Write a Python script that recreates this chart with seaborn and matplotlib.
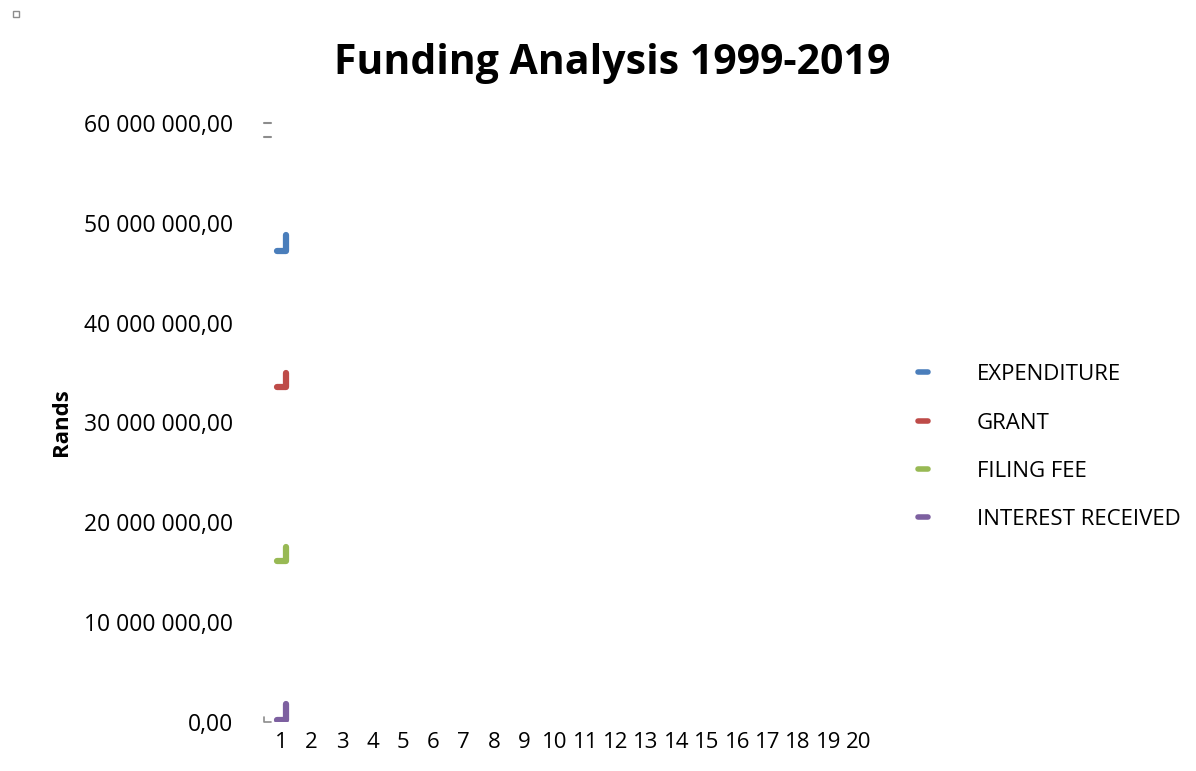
import matplotlib
matplotlib.use('Agg')
import matplotlib.pyplot as plt
import matplotlib.ticker as mticker
from matplotlib.lines import Line2D
from matplotlib.patches import Rectangle
import seaborn as sns
import pandas as pd

# series (Rands), each drawn as a short step at category 1
series = ['EXPENDITURE', 'GRANT', 'FILING FEE', 'INTEREST RECEIVED']
low_vals = [47.2e6, 33.6e6, 16.1e6, 0.15e6]
high_vals = [48.8e6, 35.0e6, 17.5e6, 1.8e6]
colors = ['#4a7ebb', '#be4b48', '#98b954', '#7d60a0']
categories = list(range(1, 21))

sns.set_theme(style='white')
plt.rcParams['font.family'] = ['Open Sans', 'DejaVu Sans']
plt.rcParams['text.color'] = 'black'
plt.rcParams['xtick.color'] = 'black'
plt.rcParams['ytick.color'] = 'black'
plt.rcParams['axes.labelcolor'] = 'black'

rows = []
for name, lo, hi in zip(series, low_vals, high_vals):
    rows.append({'series': name, 'x': 0.87, 'y': lo})
    rows.append({'series': name, 'x': 1.17, 'y': lo})
    rows.append({'series': name, 'x': 1.17, 'y': hi})
df = pd.DataFrame(rows)

fig = plt.figure(figsize=(11.96, 7.71), dpi=100)
ax = fig.add_axes([0.2224, 0.0636, 0.5084, 0.7769])

sns.lineplot(data=df, x='x', y='y', hue='series', palette=colors, sort=False,
             estimator=None, units='series', linewidth=4.5, ax=ax, legend=False,
             solid_capstyle='round', solid_joinstyle='round')

ax.set_xlim(0.5, 20.5)
ax.set_ylim(0, 60e6)
ax.set_xticks(categories)
ax.set_xticklabels([str(c) for c in categories], fontsize=16)
ax.set_yticks([i * 10e6 for i in range(7)])
ax.yaxis.set_major_formatter(mticker.FuncFormatter(
    lambda v, p: f'{v:,.2f}'.replace(',', ' ').replace('.', ',')))
ax.tick_params(axis='y', labelsize=16.5, pad=24, length=0)
ax.tick_params(axis='x', pad=7, length=0)
for s in ax.spines.values():
    s.set_visible(False)
ax.set_xlabel('')
ax.set_ylabel('Rands', fontsize=16, fontweight='bold', labelpad=8)

# faint axis remnants
grey = '#8c8c8c'
ax.plot([-0.004, -0.004, 0.009], [0.008, 0.0, 0.0], transform=ax.transAxes,
        color=grey, lw=1.2, clip_on=False)
tr = ax.get_yaxis_transform()
ax.plot([-0.004, 0.009], [60e6, 60e6], transform=tr, color=grey, lw=1.5, clip_on=False)
ax.plot([-0.004, 0.009], [58.6e6, 58.6e6], transform=tr, color=grey, lw=1.5, clip_on=False)

fig.text(0.512, 0.918, 'Funding Analysis 1999-2019', ha='center', va='center',
         fontsize=29.5, fontweight='bold')

handles = [Line2D([0], [0], color=c, lw=4, solid_capstyle='round') for c in colors]
fig.legend(handles, series, loc='center left', bbox_to_anchor=(0.751, 0.42),
           frameon=False, fontsize=16, handlelength=0.45, handletextpad=2.2,
           labelspacing=1.23)

fig.patches.append(Rectangle((0.0105, 0.978), 0.005, 0.008, transform=fig.transFigure,
                             fill=False, edgecolor=grey, lw=1))

fig.savefig('out.png', dpi=100)
